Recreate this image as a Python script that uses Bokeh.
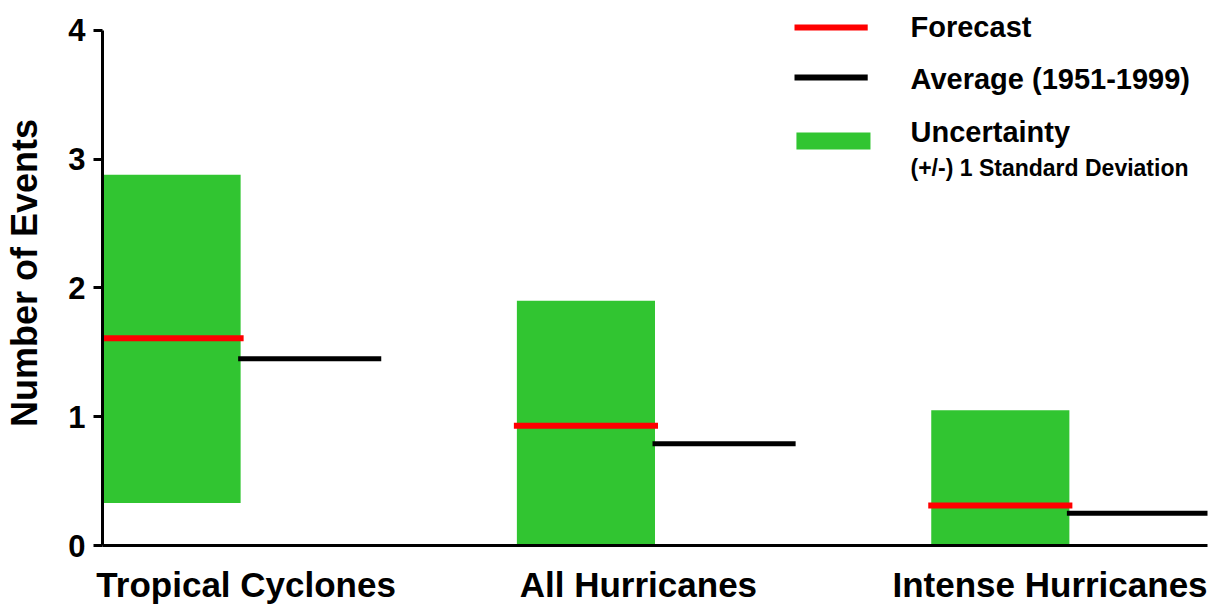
from bokeh.plotting import figure
from bokeh.models import Label, BoxAnnotation, FixedTicker, Range1d, ColumnDataSource
from bokeh.embed import file_html
from bokeh.resources import INLINE

# ---- data ----
categories = ["Tropical Cyclones", "All Hurricanes", "Intense Hurricanes"]
forecast = [1.61, 0.93, 0.31]
average = [1.45, 0.79, 0.25]
unc_low = [0.33, 0.0, 0.0]
unc_high = [2.88, 1.90, 1.05]

# ---- layout / style ----
FONT = "Liberation Sans"
GREEN = "#31C531"
label_pos = [1.04, 3.88, 6.86]

idx = list(range(len(categories)))
src = ColumnDataSource(dict(
    gl=[3 * i for i in idx],
    gr=[3 * i + 1 for i in idx],
    br=[3 * i + 2 for i in idx],
    lo=unc_low, hi=unc_high, fc=forecast, av=average,
))

p = figure(width=1223, height=606, x_range=Range1d(0, 8), y_range=Range1d(0, 4.233),
           output_backend="svg", toolbar_location=None,
           min_border_left=102, min_border_right=16, min_border_top=0, min_border_bottom=61)
p.background_fill_color = "white"
p.border_fill_color = "white"
p.outline_line_color = None
p.xgrid.visible = False
p.ygrid.visible = False

p.quad(left="gl", right="gr", bottom="lo", top="hi", source=src,
       fill_color=GREEN, line_color=None)
p.segment(x0="gr", x1="br", y0="av", y1="av", source=src,
          line_color="black", line_width=5, line_cap="square")
p.segment(x0="gl", x1="gr", y0="fc", y1="fc", source=src,
          line_color="red", line_width=6, line_cap="square")

# y axis
ya = p.yaxis[0]
ya.ticker = FixedTicker(ticks=[0, 1, 2, 3, 4])
ya.bounds = (0, 4)
ya.axis_line_width = 3
ya.axis_line_color = "black"
ya.major_tick_line_width = 3
ya.major_tick_line_color = "black"
ya.major_tick_out = 9
ya.major_tick_in = 0
ya.minor_tick_out = 0
ya.minor_tick_in = 0
ya.major_label_standoff = 8
ya.major_label_text_font = FONT
ya.major_label_text_font_style = "bold"
ya.major_label_text_font_size = "31px"
ya.major_label_text_color = "black"
ya.axis_label = "Number of Events"
ya.axis_label_text_font = FONT
ya.axis_label_text_font_style = "bold"
ya.axis_label_text_font_size = "36px"
ya.axis_label_text_color = "black"
ya.axis_label_standoff = 20

# x axis
xa = p.xaxis[0]
xa.ticker = FixedTicker(ticks=label_pos)
xa.major_label_overrides = {pos: name for pos, name in zip(label_pos, categories)}
xa.bounds = (0, 8)
xa.axis_line_width = 3
xa.axis_line_color = "black"
xa.major_tick_out = 0
xa.major_tick_in = 0
xa.minor_tick_out = 0
xa.minor_tick_in = 0
xa.major_label_standoff = 19
xa.major_label_text_font = FONT
xa.major_label_text_font_style = "bold"
xa.major_label_text_font_size = "35px"
xa.major_label_text_color = "black"

# legend (manual)
for (l, r, b, t, c) in [(5.01, 5.54, 4.0, 4.047, "red"),
                        (5.01, 5.54, 3.612, 3.658, "black"),
                        (5.024, 5.56, 3.076, 3.208, GREEN)]:
    p.add_layout(BoxAnnotation(left=l, right=r, bottom=b, top=t,
                               fill_color=c, fill_alpha=1.0, line_color=None))

for (y, txt, size) in [(4.03, "Forecast", "29px"),
                       (3.62, "Average (1951-1999)", "29px"),
                       (3.215, "Uncertainty", "29px"),
                       (2.935, "(+/-) 1 Standard Deviation", "23px")]:
    p.add_layout(Label(x=5.85, y=y, text=txt, text_font=FONT, text_font_style="bold",
                       text_font_size=size, text_baseline="alphabetic", text_color="black"))

open("out.html", "w").write(file_html(p, INLINE))
